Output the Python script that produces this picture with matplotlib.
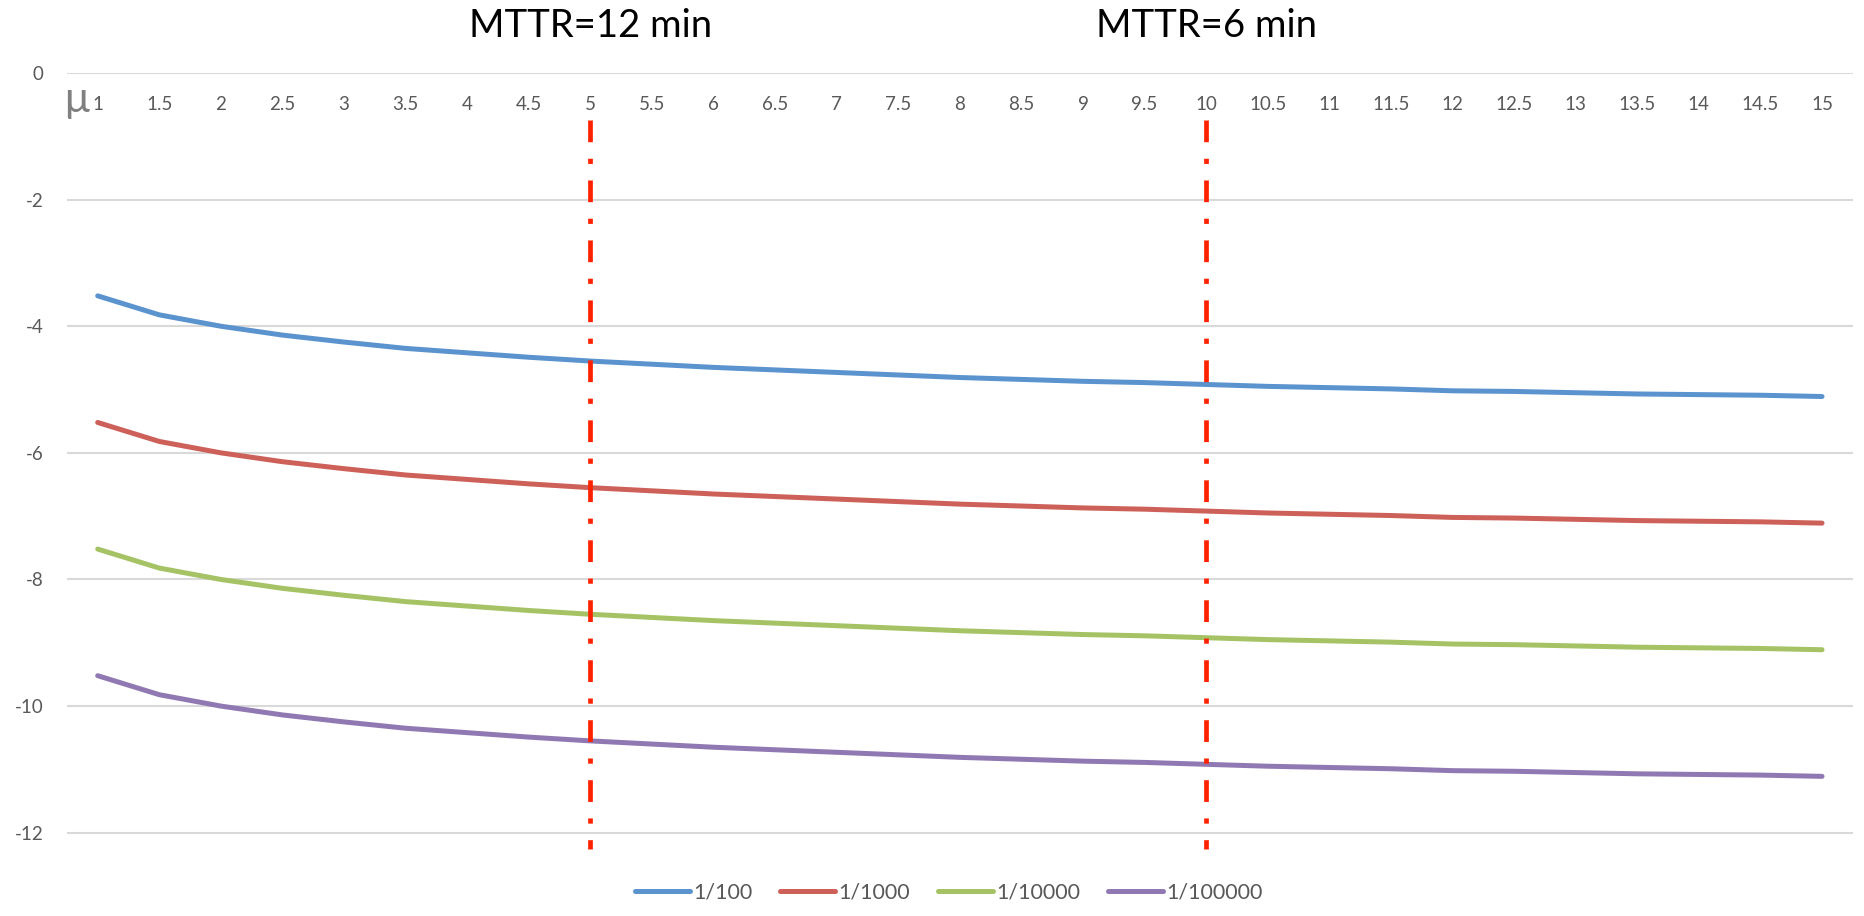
# Failure probability vs mu, with MTTR markers

import matplotlib
matplotlib.use('Agg')
import matplotlib.pyplot as plt
import matplotlib.transforms as mtransforms

plt.rcParams['font.family'] = ['Lato', 'DejaVu Sans']

mu = [1, 1.5, 2, 2.5, 3, 3.5, 4, 4.5, 5, 5.5, 6, 6.5, 7, 7.5, 8, 8.5, 9, 9.5,
      10, 10.5, 11, 11.5, 12, 12.5, 13, 13.5, 14, 14.5, 15]
mu_labels = ['1', '1.5', '2', '2.5', '3', '3.5', '4', '4.5', '5', '5.5', '6', '6.5',
             '7', '7.5', '8', '8.5', '9', '9.5', '10', '10.5', '11', '11.5', '12',
             '12.5', '13', '13.5', '14', '14.5', '15']

p_100 = [-3.52, -3.82, -4.00, -4.14, -4.25, -4.35, -4.42, -4.49, -4.55, -4.60,
         -4.65, -4.69, -4.73, -4.77, -4.81, -4.84, -4.87, -4.89, -4.92, -4.95,
         -4.97, -4.99, -5.02, -5.03, -5.05, -5.07, -5.08, -5.09, -5.11]
p_1000 = [-5.52, -5.82, -6.00, -6.14, -6.25, -6.35, -6.42, -6.49, -6.55, -6.60,
          -6.65, -6.69, -6.73, -6.77, -6.81, -6.84, -6.87, -6.89, -6.92, -6.95,
          -6.97, -6.99, -7.02, -7.03, -7.05, -7.07, -7.08, -7.09, -7.11]
p_10000 = [-7.52, -7.82, -8.00, -8.14, -8.25, -8.35, -8.42, -8.49, -8.55, -8.60,
           -8.65, -8.69, -8.73, -8.77, -8.81, -8.84, -8.87, -8.89, -8.92, -8.95,
           -8.97, -8.99, -9.02, -9.03, -9.05, -9.07, -9.08, -9.09, -9.11]
p_100000 = [-9.52, -9.82, -10.00, -10.14, -10.25, -10.35, -10.42, -10.49, -10.55,
            -10.60, -10.65, -10.69, -10.73, -10.77, -10.81, -10.84, -10.87, -10.89,
            -10.92, -10.95, -10.97, -10.99, -11.02, -11.03, -11.05, -11.07, -11.08,
            -11.09, -11.11]

series = [('1/100', p_100, '#5B93CF'),
          ('1/1000', p_1000, '#CE605A'),
          ('1/10000', p_10000, '#A5C365'),
          ('1/100000', p_100000, '#9079B2')]

mttr_mu = [5, 10]
mttr_labels = ['MTTR=12 min', 'MTTR=6 min']

yticks = [0, -2, -4, -6, -8, -10, -12]

fig = plt.figure(figsize=(18.64, 9.16), dpi=100)
ax = fig.add_axes([0.0359, 0.0633, 0.9581, 0.857])

for y in yticks:
    ax.axhline(y, color='#D9D9D9', lw=1.5, zorder=0)

for name, vals, col in series:
    ax.plot(mu, vals, color=col, lw=3.6, label=name, solid_capstyle='round', zorder=3)

for m in mttr_mu:
    ax.plot([m, m], [-0.75, -12.25], color='#FF2200', lw=3.4,
            linestyle=(0, (4.6, 3.5, 1.1, 3.5)), zorder=4)

trans = mtransforms.blended_transform_factory(ax.transData, ax.transAxes)
for m, txt in zip(mttr_mu, mttr_labels):
    ax.text(m, 1.06, txt, transform=trans, ha='center', va='center',
            fontsize=27.5, color='black')

ax.set_xlim(0.75, 15.25)
ax.set_ylim(-12.4, 0)

ax.xaxis.tick_top()
ax.set_xticks(mu)
ax.set_xticklabels(mu_labels)
ax.tick_params(axis='x', length=0, pad=-23, labelsize=13.5, labelcolor='#595959')
for lab in ax.get_xticklabels():
    lab.set_va('center')

ax.set_yticks(yticks)
ax.set_yticklabels([str(y) for y in yticks])
ax.tick_params(axis='y', length=0, pad=17, labelsize=13.5, labelcolor='#595959')

for s in ax.spines.values():
    s.set_visible(False)

# axis title "μ" sits just left of the first category label
ax.text(0.0055, 0.965, 'μ', transform=ax.transAxes, ha='center', va='center',
        fontsize=30, color='#808080')

fig.legend(loc='center', bbox_to_anchor=(0.509, 0.026), ncol=4, frameon=False,
           fontsize=15.5, handlelength=2.55, handletextpad=0.15, columnspacing=1.3,
           labelcolor='#595959')

plt.savefig('out.png', dpi=100)
